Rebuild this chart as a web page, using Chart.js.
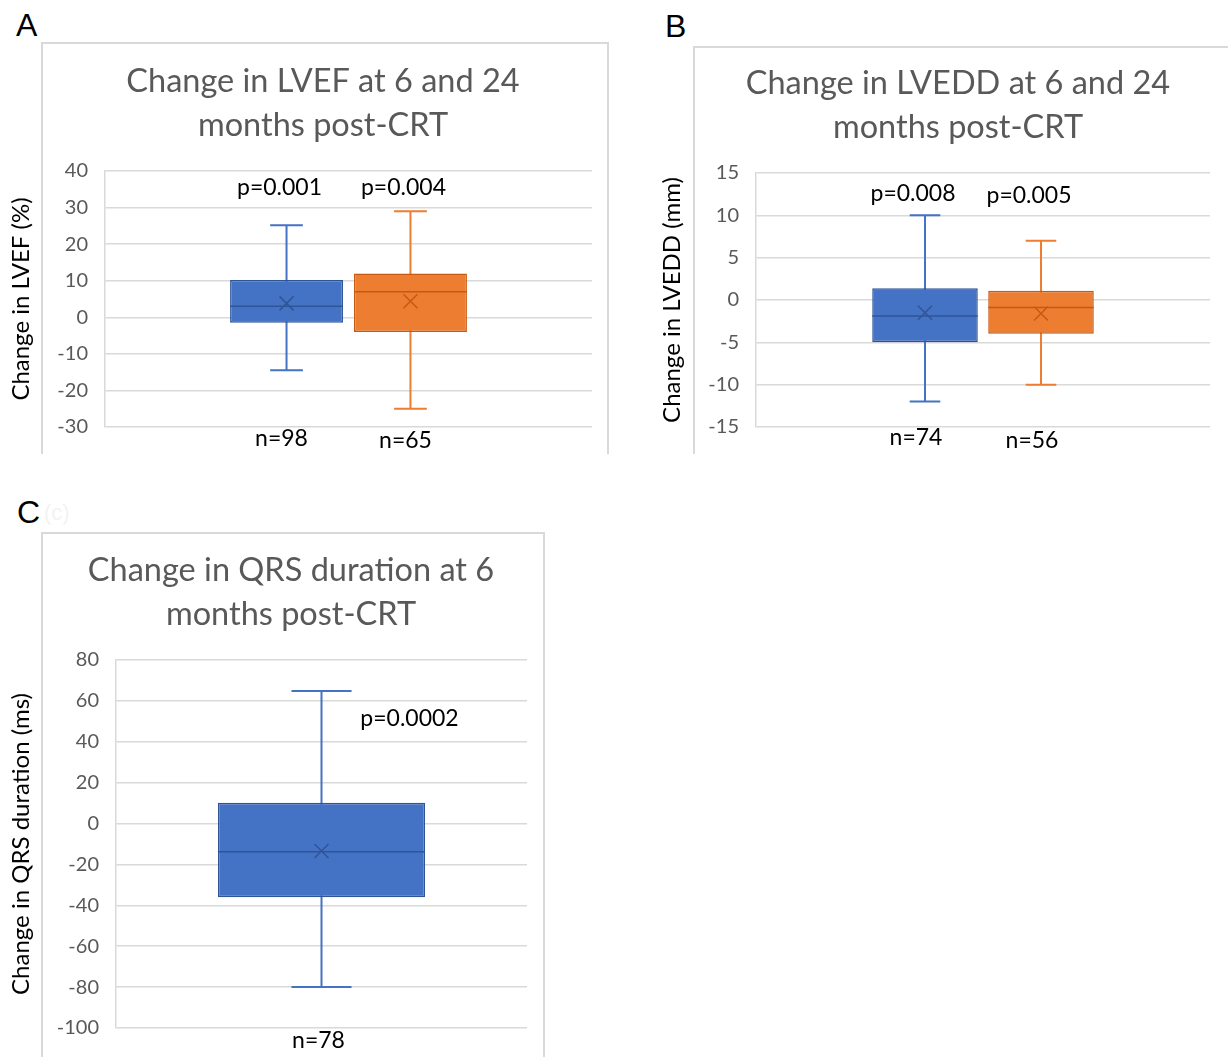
<!DOCTYPE html>
<html>
<head>
<meta charset="utf-8">
<script src="https://cdn.jsdelivr.net/npm/chart.js@4.4.1/dist/chart.umd.min.js"></script>
<style>
  body { margin: 0; width: 1228px; height: 1057px; overflow: hidden; background: #fff; position: relative; }
  .frame { position: absolute; border: 2px solid #d9d9d9; border-bottom: none; box-sizing: border-box; }
  .letter { position: absolute; font: 32px "Liberation Sans", Arial, sans-serif; line-height: 32px; color: #000; }
  .ghost { position: absolute; font: 22px "Liberation Sans", Arial, sans-serif; color: #f3f3f3; }
  canvas { position: absolute; }
</style>
</head>
<body>
<div class="frame" style="left:41px; top:42px; width:568px; height:412px;"></div>
<div class="frame" style="left:693px; top:46px; width:600px; height:408px;"></div>
<div class="frame" style="left:41px; top:532px; width:504px; height:525px;"></div>

<div class="letter" style="left:16px; top:9px;">A</div>
<div class="letter" style="left:665px; top:10px;">B</div>
<div class="letter" style="left:17px; top:496px;">C</div>
<div class="ghost" style="left:44px; top:500px;">(c)</div>

<canvas id="chartA" width="650" height="456" style="left:0; top:0;"></canvas>
<canvas id="chartB" width="622" height="456" style="left:650px; top:0;"></canvas>
<canvas id="chartC" width="586" height="567" style="left:0; top:490px;"></canvas>

<script>
// ── Data ──
const groups = ['6 months', '24 months'];

// A: change in LVEF (%)
const lvefMin    = [-14.5, -25];
const lvefQ1     = [-1.5, -4];
const lvefMedian = [3, 7];
const lvefQ3     = [10.2, 12];
const lvefMax    = [25.2, 29];
const lvefMean   = [3.8, 4.4];
const lvefP      = ['p=0.001', 'p=0.004'];
const lvefN      = ['n=98', 'n=65'];
const lvefTicks  = [-30, 40, 10];

// B: change in LVEDD (mm)
const lveddMin    = [-12, -10];
const lveddQ1     = [-5, -4];
const lveddMedian = [-1.9, -0.9];
const lveddQ3     = [1.4, 1.1];
const lveddMax    = [10, 7];
const lveddMean   = [-1.5, -1.6];
const lveddP      = ['p=0.008', 'p=0.005'];
const lveddN      = ['n=74', 'n=56'];
const lveddTicks  = [-15, 15, 5];

// C: change in QRS duration (ms)
const qrsMin    = [-80];
const qrsQ1     = [-36];
const qrsMedian = [-13.8];
const qrsQ3     = [10.2];
const qrsMax    = [64.8];
const qrsMean   = [-13.4];
const qrsP      = ['p=0.0002'];
const qrsN      = ['n=78'];
const qrsTicks  = [-100, 80, 20];

// ── Style ──
const FONT = 'Lato, "Open Sans", sans-serif';
const FILL = ['#4472C4', '#ED7D31'];
const DARK = ['#2F5597', '#C55A11'];

// ── Box & whisker plugin ──
const boxWhisker = {
  id: 'boxWhisker',
  beforeDatasetsDraw(chart) {
    const { ctx, scales: { y } } = chart;
    chart.data.datasets.forEach((ds, i) => {
      const bar = chart.getDatasetMeta(i).data[0];
      const cap = bar.width * 0.29;
      const yMin = y.getPixelForValue(ds.stats.min);
      const yMax = y.getPixelForValue(ds.stats.max);
      ctx.save();
      ctx.strokeStyle = ds.whiskerColor;
      ctx.lineWidth = 2;
      ctx.beginPath();
      ctx.moveTo(bar.x, yMax); ctx.lineTo(bar.x, yMin);
      ctx.moveTo(bar.x - cap / 2, yMax); ctx.lineTo(bar.x + cap / 2, yMax);
      ctx.moveTo(bar.x - cap / 2, yMin); ctx.lineTo(bar.x + cap / 2, yMin);
      ctx.stroke();
      ctx.restore();
    });
  },
  afterDatasetsDraw(chart, args, opts) {
    const { ctx, chartArea, scales: { y } } = chart;
    chart.data.datasets.forEach((ds, i) => {
      const bar = chart.getDatasetMeta(i).data[0];
      const half = bar.width / 2;
      const yMed = y.getPixelForValue(ds.stats.median);
      const yMean = y.getPixelForValue(ds.stats.mean);
      ctx.save();
      ctx.strokeStyle = ds.borderColor;
      ctx.lineWidth = 1.5;
      ctx.beginPath();
      ctx.moveTo(bar.x - half, yMed); ctx.lineTo(bar.x + half, yMed);
      const m = 7;
      ctx.moveTo(bar.x - m, yMean - m); ctx.lineTo(bar.x + m, yMean + m);
      ctx.moveTo(bar.x - m, yMean + m); ctx.lineTo(bar.x + m, yMean - m);
      ctx.stroke();

      ctx.fillStyle = '#000';
      ctx.font = `23px ${FONT}`;
      ctx.textAlign = 'center';
      ctx.textBaseline = 'middle';
      ctx.fillText(ds.stats.p, bar.x + opts.pDx, chartArea.top + opts.pDy[i]);
      ctx.fillText(ds.stats.n, bar.x + opts.nDx, chartArea.bottom + opts.nDy[i]);
      ctx.restore();
    });
  }
};

function boxChart(id, o) {
  const datasets = o.q1.map((q1, i) => ({
    label: groups[i],
    data: [[q1, o.q3[i]]],
    stats: { min: o.min[i], median: o.median[i], max: o.max[i], mean: o.mean[i], p: o.p[i], n: o.n[i] },
    backgroundColor: FILL[i],
    borderColor: DARK[i],
    whiskerColor: FILL[i],
    borderWidth: 1.5,
    borderSkipped: false,
    categoryPercentage: o.cat,
    barPercentage: o.bar,
  }));

  new Chart(document.getElementById(id), {
    type: 'bar',
    data: { labels: [''], datasets },
    plugins: [boxWhisker],
    options: {
      responsive: false,
      animation: false,
      events: [],
      layout: { padding: o.pad },
      plugins: {
        legend: { display: false },
        tooltip: { enabled: false },
        title: {
          display: true,
          text: o.title,
          color: '#595959',
          font: { family: FONT, size: 32.5, weight: 'normal', lineHeight: 1.354 },
          padding: { top: 0, bottom: 23 },
        },
        boxWhisker: { pDx: o.pDx, pDy: o.pDy, nDx: o.nDx, nDy: o.nDy },
      },
      scales: {
        x: { display: false },
        y: {
          min: o.ticks[0],
          max: o.ticks[1],
          ticks: { stepSize: o.ticks[2], color: '#595959', font: { family: FONT, size: 20 }, padding: 17 },
          grid: { color: '#d9d9d9', lineWidth: 1.5, drawTicks: false },
          border: { color: '#d9d9d9', width: 1.5 },
          title: {
            display: true,
            text: o.yTitle,
            color: '#000',
            font: { family: FONT, size: 24, lineHeight: 1.2 },
            // pulls the axis title out to the left of the framed chart
            padding: { top: o.yTitleShift, bottom: 0 },
          },
          afterFit: s => { s.width = o.axisW; },
        },
      },
    },
  });
}

// ── Init ──
boxChart('chartA', {
  title: ['Change in LVEF at 6 and 24', 'months post-CRT'],
  yTitle: 'Change in LVEF (%)',
  min: lvefMin, q1: lvefQ1, median: lvefMedian, q3: lvefQ3, max: lvefMax, mean: lvefMean,
  p: lvefP, n: lvefN, ticks: lvefTicks,
  pad: { left: 54, right: 58, top: 60, bottom: 28 },
  axisW: 51, yTitleShift: -47.4, cat: 0.509, bar: 0.911,
  pDx: -7, pDy: [17, 17], nDx: -5, nDy: [12, 14],
});

boxChart('chartB', {
  title: ['Change in LVEDD at 6 and 24', 'months post-CRT'],
  yTitle: 'Change in LVEDD (mm)',
  min: lveddMin, q1: lveddQ1, median: lveddMedian, q3: lveddQ3, max: lveddMax, mean: lveddMean,
  p: lveddP, n: lveddN, ticks: lveddTicks,
  pad: { left: 56, right: 62, top: 62, bottom: 29 },
  axisW: 50, yTitleShift: -48.4, cat: 0.511, bar: 0.91,
  pDx: -12, pDy: [21, 23], nDx: -9, nDy: [11, 14],
});

boxChart('chartC', {
  title: ['Change in QRS duration at 6', 'months post-CRT'],
  yTitle: 'Change in QRS duration (ms)',
  min: qrsMin, q1: qrsQ1, median: qrsMedian, q3: qrsQ3, max: qrsMax, mean: qrsMean,
  p: qrsP, n: qrsN, ticks: qrsTicks,
  pad: { left: 55, right: 59, top: 59, bottom: 24 },
  axisW: 61, yTitleShift: -48.4, cat: 0.55, bar: 0.916,
  pDx: 88, pDy: [59], nDx: -3, nDy: [13],
});
</script>
</body>
</html>
